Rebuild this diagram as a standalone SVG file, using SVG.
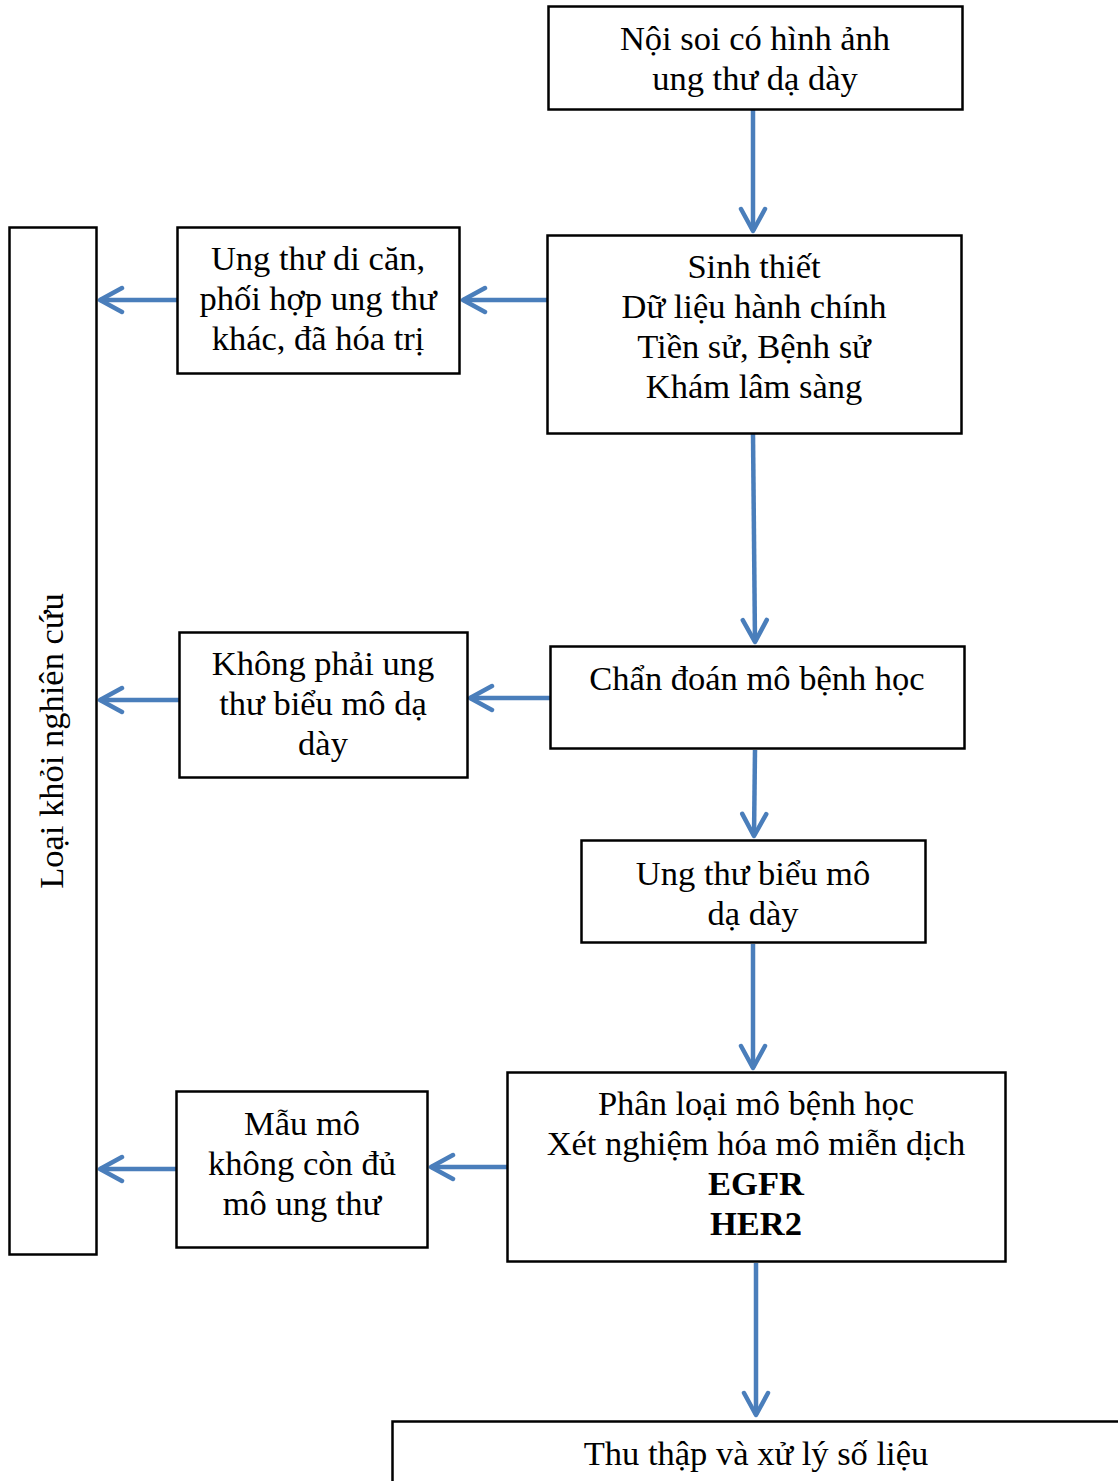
<svg xmlns="http://www.w3.org/2000/svg" width="1118" height="1481" viewBox="0 0 1118 1481">
<defs>
<style>
.box{fill:#fff;stroke:#000;stroke-width:2.5}
.t{font-family:"Liberation Serif","Times New Roman",serif;font-size:34.5px;fill:#000;text-anchor:middle}
.b{font-weight:bold}
.c{fill:none;stroke:#4A7EBB;stroke-width:4.5}
</style>
<marker id="ah" markerUnits="userSpaceOnUse" markerWidth="30" markerHeight="30" viewBox="-26 -15 30 30" refX="0" refY="0" orient="auto">
<path d="M-22,-12 L0,0 L-22,12" fill="none" stroke="#4A7EBB" stroke-width="4.5" stroke-linecap="round" stroke-linejoin="round"/>
</marker>
</defs>
<rect width="1118" height="1481" fill="#fff"/>
<g id="connectors">
<path class="c" d="M753,110 L753,231" marker-end="url(#ah)"/>
<path class="c" d="M547,300 L463,300" marker-end="url(#ah)"/>
<path class="c" d="M177,300 L100,300" marker-end="url(#ah)"/>
<path class="c" d="M753,434 L755,642" marker-end="url(#ah)"/>
<path class="c" d="M550,698 L470,698" marker-end="url(#ah)"/>
<path class="c" d="M179,700 L100,700" marker-end="url(#ah)"/>
<path class="c" d="M755,750 L754,836" marker-end="url(#ah)"/>
<path class="c" d="M753,944 L753,1068" marker-end="url(#ah)"/>
<path class="c" d="M507,1167 L431,1167" marker-end="url(#ah)"/>
<path class="c" d="M176,1169 L100,1169" marker-end="url(#ah)"/>
<path class="c" d="M756,1263 L756,1415" marker-end="url(#ah)"/>
</g>
<g id="n1"><rect class="box" x="548.5" y="6.5" width="414" height="103"/>
<text class="t" x="755" y="50">Nội soi có hình ảnh</text><text class="t" x="755" y="90">ung thư dạ dày</text></g>
<g id="n2"><rect class="box" x="547.5" y="235.5" width="414" height="198"/>
<text class="t" x="754" y="278">Sinh thiết</text><text class="t" x="754" y="318">Dữ liệu hành chính</text><text class="t" x="754" y="358">Tiền sử, Bệnh sử</text><text class="t" x="754" y="398">Khám lâm sàng</text></g>
<g id="n3"><rect class="box" x="177.5" y="227.5" width="282" height="146"/>
<text class="t" x="318" y="270">Ung thư di căn,</text><text class="t" x="318" y="310">phối hợp ung thư</text><text class="t" x="318" y="350">khác, đã hóa trị</text></g>
<g id="n4"><rect class="box" x="9.5" y="227.5" width="87" height="1027"/>
<text class="t" transform="translate(63,741) rotate(-90)">Loại khỏi nghiên cứu</text></g>
<g id="n5"><rect class="box" x="550.5" y="646.5" width="414" height="102"/>
<text class="t" x="757" y="690">Chẩn đoán mô bệnh học</text></g>
<g id="n6"><rect class="box" x="179.5" y="632.5" width="288" height="145"/>
<text class="t" x="323" y="675">Không phải ung</text><text class="t" x="323" y="715">thư biểu mô dạ</text><text class="t" x="323" y="755">dày</text></g>
<g id="n7"><rect class="box" x="581.5" y="840.5" width="344" height="102"/>
<text class="t" x="753" y="885">Ung thư biểu mô</text><text class="t" x="753" y="925">dạ dày</text></g>
<g id="n8"><rect class="box" x="507.5" y="1072.5" width="498" height="189"/>
<text class="t" x="756" y="1115">Phân loại mô bệnh học</text><text class="t" x="756" y="1155">Xét nghiệm hóa mô miễn dịch</text><text class="t b" x="756" y="1195">EGFR</text><text class="t b" x="756" y="1235">HER2</text></g>
<g id="n9"><rect class="box" x="176.5" y="1091.5" width="251" height="156"/>
<text class="t" x="302" y="1135">Mẫu mô</text><text class="t" x="302" y="1175">không còn đủ</text><text class="t" x="302" y="1215">mô ung thư</text></g>
<g id="n10"><rect class="box" x="392.5" y="1421.5" width="740" height="80"/>
<text class="t" x="756" y="1465">Thu thập và xử lý số liệu</text></g>
</svg>
